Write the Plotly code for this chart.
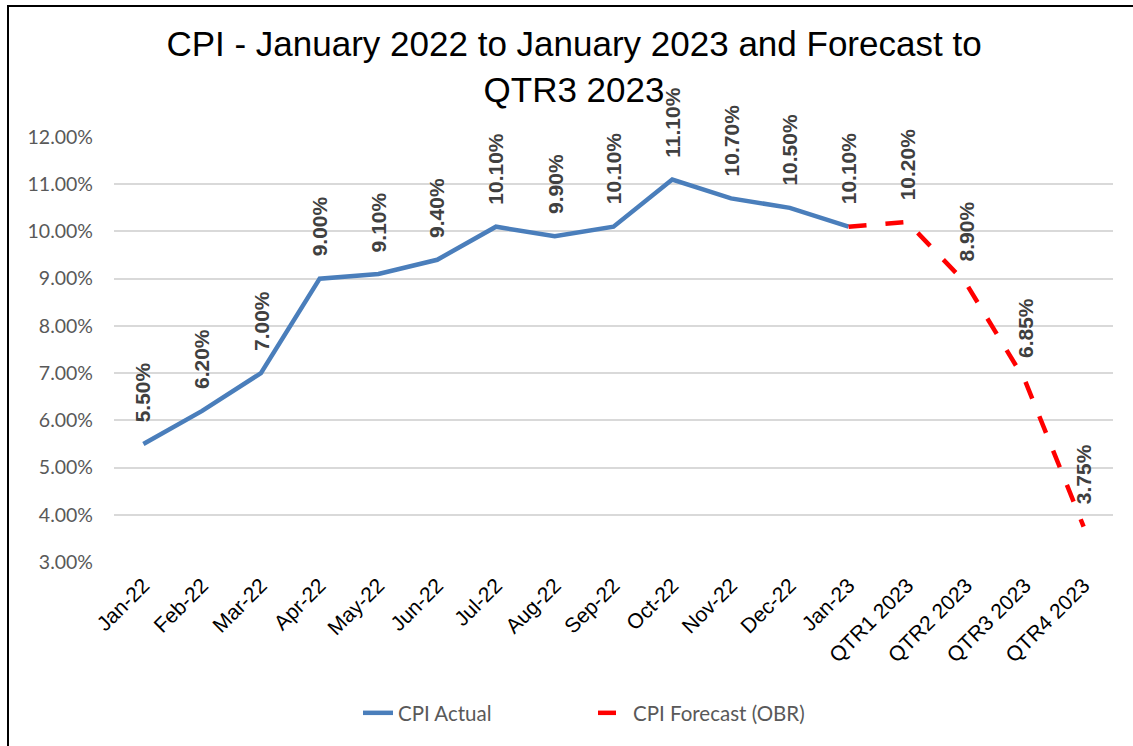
import plotly.graph_objects as go

categories = ["Jan-22", "Feb-22", "Mar-22", "Apr-22", "May-22", "Jun-22", "Jul-22",
              "Aug-22", "Sep-22", "Oct-22", "Nov-22", "Dec-22", "Jan-23",
              "QTR1 2023", "QTR2 2023", "QTR3 2023", "QTR4 2023"]
cpi_actual = [5.50, 6.20, 7.00, 9.00, 9.10, 9.40, 10.10, 9.90, 10.10, 11.10, 10.70, 10.50, 10.10,
              None, None, None, None]
cpi_forecast = [None] * 12 + [10.10, 10.20, 8.90, 6.85, 3.75]
y_ticks = [3, 4, 5, 6, 7, 8, 9, 10, 11, 12]

W, H = 1133, 746
ml, mr, mt, mb = 114, 20, 137, 184
pw, ph = W - ml - mr, H - mt - mb

fig = go.Figure()
fig.add_trace(go.Scatter(x=categories, y=cpi_actual, mode="lines", name="CPI Actual",
                         line=dict(color="#4A7EBB", width=4.5), connectgaps=False))
fig.add_trace(go.Scatter(x=categories, y=cpi_forecast, mode="lines", name="CPI Forecast (OBR)",
                         line=dict(color="#FF0000", width=4.5, dash="18px,19px")))

label_font = dict(family="Liberation Sans, Arial", size=21, color="#404040", weight="bold")
annotations = []
for c, v in zip(categories, cpi_actual):
    if v is None:
        continue
    annotations.append(dict(x=c, y=v, xref="x", yref="y", text=f"{v:.2f}%", showarrow=False,
                            textangle=-90, yanchor="bottom", xanchor="center", yshift=20,
                            font=label_font))
for i, (c, v) in enumerate(zip(categories, cpi_forecast)):
    if v is None or cpi_actual[i] is not None:
        continue
    annotations.append(dict(x=c, y=v, xref="x", yref="y", text=f"{v:.2f}%", showarrow=False,
                            textangle=-90, yanchor="bottom", xanchor="center", yshift=20,
                            font=label_font))

def px_x(p):
    return (p - ml) / pw

def px_y(p):
    return 1 - (p - mt) / ph

fig.update_layout(
    width=W, height=H,
    margin=dict(l=ml, r=mr, t=mt, b=mb, autoexpand=False),
    paper_bgcolor="white", plot_bgcolor="white",
    title=dict(text="CPI - January 2022 to January 2023 and Forecast to<br>QTR3 2023",
               x=574 / W, xanchor="center", xref="container",
               y=1 - 56 / H, yanchor="top", yref="container",
               font=dict(family="Liberation Sans, Arial", size=35, color="black")),
    xaxis=dict(type="category", range=[-0.5, len(categories) - 0.5], tickangle=-45,
               showgrid=False, showline=False, ticks="", ticklabelstandoff=6,
               tickfont=dict(family="Liberation Sans, Arial", size=21, color="black")),
    yaxis=dict(range=[3, 12], tickvals=y_ticks, ticktext=[f"{t:.2f}%" for t in y_ticks],
               showgrid=True, gridcolor="#D9D9D9", gridwidth=1.5, zeroline=False,
               showline=False, ticks="", ticklabelstandoff=20,
               tickfont=dict(family="Lato, Liberation Sans", size=19.5, color="#595959")),
    legend=dict(orientation="h", x=px_x(358), xanchor="left",
                y=px_y(713), yanchor="middle", entrywidth=190, entrywidthmode="pixels",
                font=dict(family="Lato, Liberation Sans", size=20.5, color="#595959"),
                tracegroupgap=0),
    annotations=annotations,
    shapes=[
        dict(type="line", xref="paper", yref="paper",
             x0=px_x(7), x1=px_x(1133), y0=px_y(6), y1=px_y(6),
             line=dict(color="black", width=2), layer="above"),
        dict(type="line", xref="paper", yref="paper",
             x0=px_x(8), x1=px_x(8), y0=px_y(5), y1=px_y(746),
             line=dict(color="black", width=2), layer="above"),
    ],
)

fig.write_html("out.html", config={"displayModeBar": False},
               post_script="document.body.style.margin='0';document.body.style.overflow='hidden';")
